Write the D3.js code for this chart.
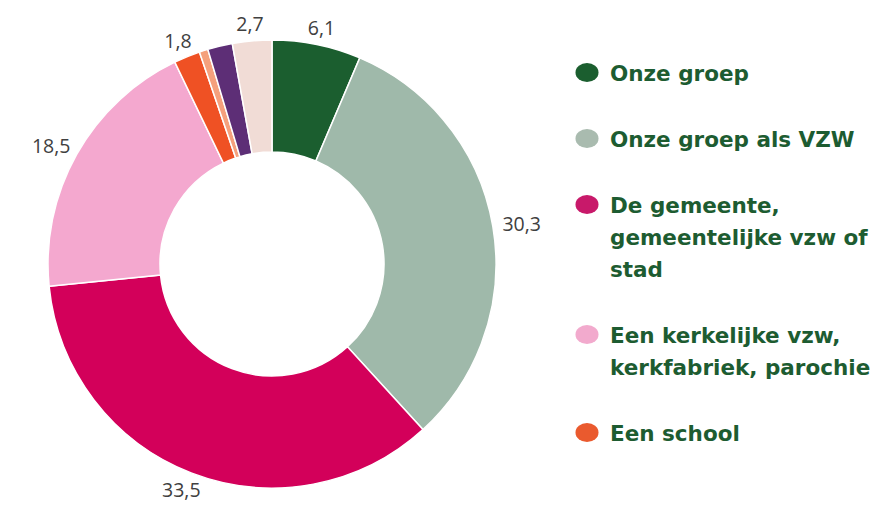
<!DOCTYPE html>
<html>
<head>
<meta charset="utf-8">
<script src="https://cdn.jsdelivr.net/npm/d3@7"></script>
<style>
  body { margin: 0; background: #fff; }
  .lbl { font-family: "Open Sans", sans-serif; font-size: 19.5px; fill: #404040; }
  .leg { font-family: "DejaVu Sans", sans-serif; font-weight: bold; font-size: 21.5px; fill: #1d5c31; }
</style>
</head>
<body>
<div id="chart"></div>
<script>
// slices, clockwise from the top
const categories = ["Onze groep", "Onze groep als VZW", "De gemeente, gemeentelijke vzw of stad",
  "Een kerkelijke vzw, kerkfabriek, parochie", "Een school", "Overig 1", "Overig 2", "Overig 3"]
const values = [6.1, 30.3, 33.5, 18.5, 1.8, 0.6, 1.7, 2.7]
const valueLabels = ["6,1", "30,3", "33,5", "18,5", "1,8", "", "", "2,7"]
const colors = ["#1b5e2f", "#9fb9aa", "#d3005a", "#f4a8cf", "#ef5124", "#f5a07c", "#5d2e76", "#f1dcd6"]

// legend (only the first five entries are visible)
const legendLines = [["Onze groep"], ["Onze groep als VZW"], ["De gemeente,", "gemeentelijke vzw of", "stad"],
  ["Een kerkelijke vzw,", "kerkfabriek, parochie"], ["Een school"]]
const legendColors = ["#1b5e2f", "#a9bbaf", "#c8196a", "#f2aacd", "#ea5a2e"]

const width = 881, height = 527
const cx = 272, cy = 264
const outerR = 224, innerR = 112

let svg = d3.select("#chart").append("svg")
  .attr("width", width)
  .attr("height", height)

let pie = d3.pie().sort(null).value(d => d)
let arcs = pie(values)

let arc = d3.arc().innerRadius(innerR).outerRadius(outerR)

let g = svg.append("g").attr("transform", "translate(" + cx + "," + cy + ")")

g.selectAll("path")
  .data(arcs)
  .enter().append("path")
  .attr("d", arc)
  .attr("fill", (d, i) => colors[i])
  .attr("stroke", "#fff")
  .attr("stroke-width", 1.5)

// labels outside end: nearest edge of the label box sits just outside the ring
const gap = 10
g.selectAll("text.lbl")
  .data(arcs.filter((d, i) => valueLabels[i] !== ""))
  .enter().append("text")
  .attr("class", "lbl")
  .attr("text-anchor", "middle")
  .attr("dominant-baseline", "central")
  .text(d => valueLabels[d.index])
  .each(function(d) {
    let a = (d.startAngle + d.endAngle) / 2
    let w = this.getComputedTextLength()
    let h = 15
    let s = Math.sin(a), c = -Math.cos(a)
    let x = s * (outerR + gap) + s * w / 2
    let y = c * (outerR + gap) + c * h / 2
    d3.select(this).attr("x", x).attr("y", y)
  })

// legend
const legX = 587, textX = 610, lineH = 32, itemGap = 66
let base = 81
let legend = svg.append("g")
legendLines.forEach((lines, i) => {
  legend.append("ellipse")
    .attr("cx", legX)
    .attr("cy", base - 8.5)
    .attr("rx", 11.5)
    .attr("ry", 9.5)
    .attr("fill", legendColors[i])
  let t = legend.append("text").attr("class", "leg")
  lines.forEach((line, j) => {
    t.append("tspan")
      .attr("x", textX)
      .attr("y", base + j * lineH)
      .text(line)
  })
  base += (lines.length - 1) * lineH + itemGap
})
</script>
</body>
</html>
